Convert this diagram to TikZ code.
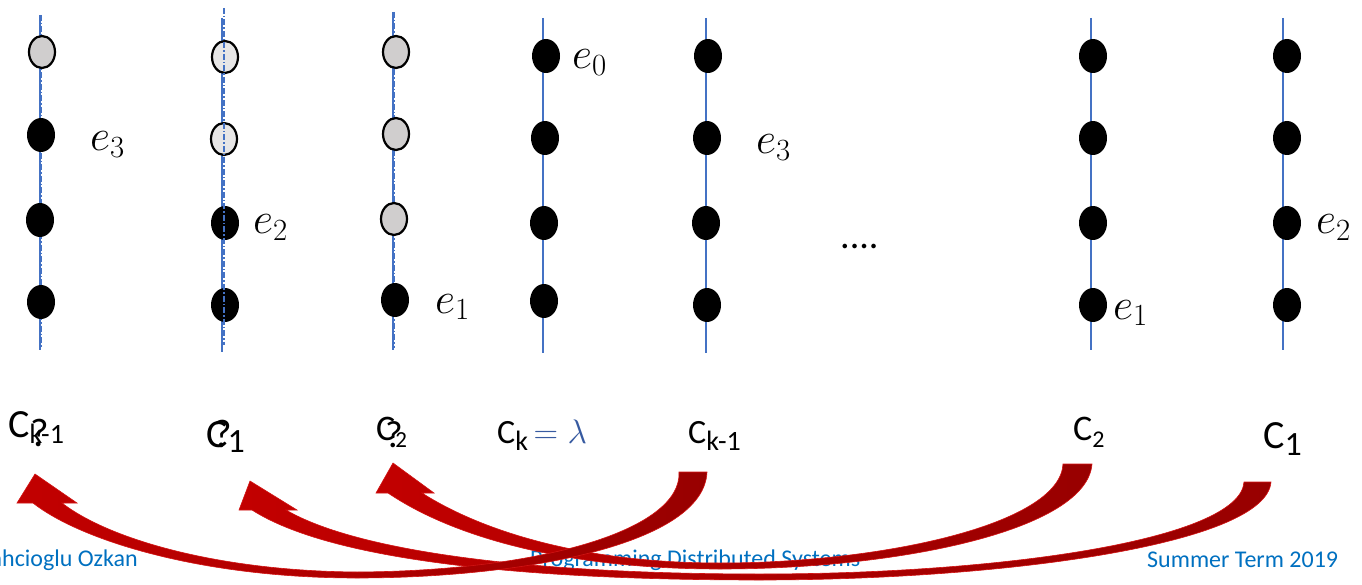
\RequirePackage{fix-cm}
\documentclass[tikz,border=0pt]{standalone}
\usepackage{fontspec}
\setmainfont{Carlito}
\usetikzlibrary{shapes.geometric}
\definecolor{tl}{RGB}{68,114,196}
\definecolor{grayA}{RGB}{208,206,206}
\definecolor{grayB}{RGB}{231,230,230}
\definecolor{foot}{RGB}{0,112,192}
\definecolor{mblue}{RGB}{55,90,160}
\definecolor{redL}{RGB}{194,0,0}
\definecolor{redD}{RGB}{152,0,0}
\definecolor{redE}{RGB}{210,20,20}
\newcommand\csub[3]{C\raisebox{-#3pt}{\fontsize{#2}{#2}\selectfont #1}}
\tikzset{
  tline/.style={draw=tl, line width=1.4pt},
  tdash/.style={draw=tl, line width=1.2pt, dash pattern=on 6pt off 2pt on 1.5pt off 2pt},
  bdot/.style={ellipse, fill=black, minimum width=28pt, minimum height=34pt, inner sep=0pt},
  gdot/.style={ellipse, draw=black, line width=2.2pt, fill=grayA, minimum width=26pt, minimum height=32pt, inner sep=0pt},
  ldot/.style={gdot, fill=grayB},
  elab/.style={anchor=base west, inner sep=0pt, font=\fontsize{44}{48}\selectfont},
  clab/.style={anchor=base west, inner sep=0pt, font=\fontsize{#1}{#1}\selectfont},
  qlab/.style={anchor=base west, inner sep=0pt, font=\fontsize{#1}{#1}\selectfont},
  flab/.style={inner sep=0pt, text=foot, font=\fontsize{24}{26}\selectfont},
  arr/.style={draw=redE, line width=0.6pt, left color=redL, middle color=redL, right color=redD}
}
\begin{document}
\begin{tikzpicture}[x=1pt,y=-1pt]
\useasboundingbox (0,0) rectangle (1362,585);
% timelines
\coordinate (t1a) at (40,15);   \coordinate (t1b) at (40,350);
\coordinate (u1a) at (41,15);   \coordinate (u1b) at (41,348);
\coordinate (t2a) at (222,18);  \coordinate (t2b) at (222,352);
\coordinate (u2a) at (224,8);   \coordinate (u2b) at (224,345);
\coordinate (t3a) at (393,12);  \coordinate (t3b) at (393,350);
\coordinate (u3a) at (394,12);  \coordinate (u3b) at (394,348);
\coordinate (t4a) at (543,18);  \coordinate (t4b) at (543,353);
\coordinate (t5a) at (706,18);  \coordinate (t5b) at (706,353);
\coordinate (t6a) at (1091,18); \coordinate (t6b) at (1091,350);
\coordinate (t7a) at (1283,18); \coordinate (t7b) at (1283,350);
\draw[tline] (t1a) -- (t1b);
\draw[tdash] (u1a) -- (u1b);
\draw[tline] (t2a) -- (t2b);
\draw[tline] (t3a) -- (t3b);
\draw[tdash] (u3a) -- (u3b);
\draw[tline] (t4a) -- (t4b);
\draw[tline] (t5a) -- (t5b);
\draw[tline] (t6a) -- (t6b);
\draw[tline] (t7a) -- (t7b);
% column 1
\node[gdot] (d11) at (42,52) {};
\node[bdot] (d12) at (41,135) {};
\node[bdot] (d13) at (40,220) {};
\node[bdot] (d14) at (41,302) {};
% column 2
\node[ldot] (d21) at (225,57) {};
\node[ldot] (d22) at (224,139) {};
\node[bdot] (d23) at (225,223) {};
\node[bdot] (d24) at (225,305) {};
\draw[tdash] (u2a) -- (u2b);
% column 3
\node[gdot] (d31) at (396,52) {};
\node[gdot] (d32) at (396,134) {};
\node[gdot] (d33) at (394,219) {};
\node[bdot] (d34) at (395,300) {};
% column 4
\node[bdot] (d41) at (546,56) {};
\node[bdot] (d42) at (545,138) {};
\node[bdot] (d43) at (544,223) {};
\node[bdot] (d44) at (544,301) {};
% column 5
\node[bdot] (d51) at (708,56) {};
\node[bdot] (d52) at (707,138) {};
\node[bdot] (d53) at (706,223) {};
\node[bdot] (d54) at (707,305) {};
% column 6
\node[bdot] (d61) at (1093,56) {};
\node[bdot] (d62) at (1093,138) {};
\node[bdot] (d63) at (1093,223) {};
\node[bdot] (d64) at (1093,305) {};
% column 7
\node[bdot] (d71) at (1287,56) {};
\node[bdot] (d72) at (1287,138) {};
\node[bdot] (d73) at (1287,223) {};
\node[bdot] (d74) at (1287,305) {};
% event labels
\node[elab] (e1) at (90,151) {$e_3$};
\node[elab] (e2) at (253,234) {$e_2$};
\node[elab] (e3) at (435,313) {$e_1$};
\node[elab] (e4) at (572,69) {$e_0$};
\node[elab] (e5) at (756,154) {$e_3$};
\node[elab] (e6) at (1113,319) {$e_1$};
\node[elab] (e7) at (1316,234) {$e_2$};
\node[clab=38] (dots) at (840,249) {....};
% cut labels
\node[clab=40] (c1) at (8,437) {\csub{k-1}{28}{6}};
\node[qlab=40] (q1) at (30,446) {?};
\node[clab=40] (c2) at (206,447) {\csub{1}{34}{5}};
\node[qlab=40] (q2) at (213,447) {?};
\node[clab=36] (c3) at (376,440) {\csub{2}{23}{7}};
\node[qlab=38] (q3) at (385,447) {?};
\node[clab=34] (c4) at (497,443) {\csub{k}{28}{7}\,\textcolor{mblue}{$=\lambda$}};
\node[clab=34] (c5) at (688,443) {\csub{k-1}{28}{7}};
\node[clab=36] (c6) at (1073,440) {\csub{2}{24}{7}};
\node[clab=40] (c7) at (1263,448) {\csub{1}{34}{7}};
% footer
\node[flab, anchor=base east] (f1) at (138,566) {ahcioglu Ozkan};
\node[flab, anchor=base west] (f2) at (530,566) {Programming Distributed Systems};
\node[flab, anchor=base west] (f3) at (1147,567) {Summer Term 2019};
% curved arrows
\path[arr] (1271,482) .. controls (1266,545) and (1000,580) .. (760,580)
  .. controls (520,580) and (330,560) .. (252,510) -- (239,510) -- (250,481) -- (297,510) -- (286,510)
  .. controls (360,553) and (540,574) .. (760,574)
  .. controls (1000,574) and (1240,540) .. (1244,482) -- cycle;
\path[arr] (1092,464) .. controls (1087,530) and (900,569) .. (720,569)
  .. controls (560,569) and (450,535) .. (388,493) -- (376,493) -- (393,463) -- (434,493) -- (422,493)
  .. controls (480,530) and (580,563) .. (720,563)
  .. controls (880,563) and (1060,525) .. (1063,464) -- cycle;
\path[arr] (707,472) .. controls (704,545) and (520,578) .. (357,578)
  .. controls (200,578) and (80,540) .. (33,503) -- (17,503) -- (35,474) -- (77,503) -- (62,503)
  .. controls (110,540) and (220,571) .. (357,572)
  .. controls (540,571) and (682,530) .. (679,472) -- cycle;
\end{tikzpicture}
\end{document}
